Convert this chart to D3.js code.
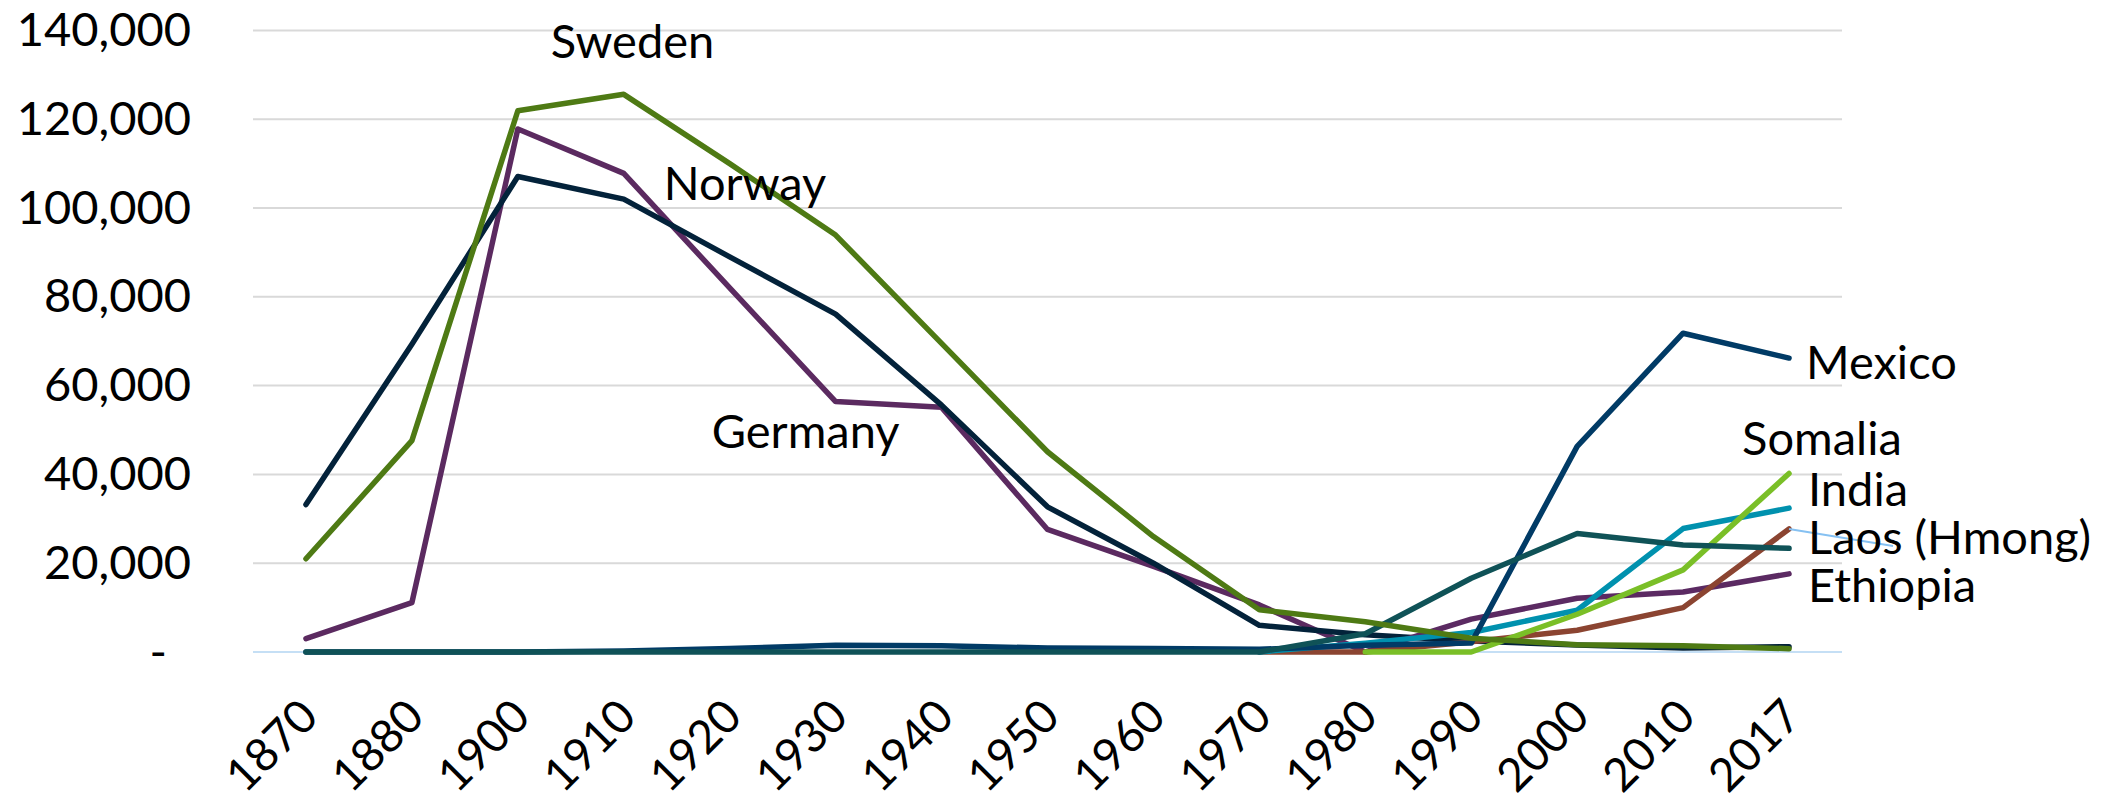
<!DOCTYPE html>
<html><head><meta charset="utf-8">
<script src="https://cdn.jsdelivr.net/npm/d3@7"></script>
<style>
html,body{margin:0;padding:0;background:#fff;}
svg{display:block;}
text{font-family: Lato, "Open Sans", sans-serif;}
</style></head><body>
<svg id="chart" width="2119" height="799"></svg>
<script>
// ---- data ----
const categories = ["1870","1880","1900","1910","1920","1930","1940","1950","1960","1970","1980","1990","2000","2010","2017"];
const yTicks = [0,20000,40000,60000,80000,100000,120000,140000];

const sweden   = [21000,47600,121900,125600,110000,93900,69500,45100,26000,9500,6800,3100,1650,1400,750];
const norway   = [33200,69300,107100,102000,89000,76100,55600,32700,20000,6000,3900,2500,1600,900,1200];
const germany  = [3000,11100,117800,107800,82000,56400,55100,27600,19300,10600,0,null,null,null,null];
const mexico   = [0,0,0,200,800,1500,1400,900,800,600,1500,2000,46300,71800,66200];
const laosHmong= [0,0,0,0,0,0,0,0,0,0,4100,16600,26700,24100,23350];
const somalia  = [null,null,null,null,null,null,null,null,null,null,0,0,8500,18500,40200];
const india    = [null,null,null,null,null,null,null,null,null,0,2000,4400,9400,27800,32400];
const brownSeries = [null,null,null,null,null,null,null,null,null,0,0,2300,4900,10000,27700];
const ethiopia = [null,null,null,null,null,null,null,null,null,null,0,7400,12100,13500,17600];

// series in drawing order (later on top)
const series = [
  {key:"Germany", values:germany},
  {key:"Norway", values:norway},
  {key:"Ethiopia", values:ethiopia},
  {key:"Brown", values:brownSeries},
  {key:"India", values:india},
  {key:"Somalia", values:somalia},
  {key:"Mexico", values:mexico},
  {key:"Laos (Hmong)", values:laosHmong},
  {key:"Sweden", values:sweden}
];
const colors = {
  "Germany":"#5b2a60","Norway":"#03223a","Ethiopia":"#5b2a62","Brown":"#8b4431",
  "India":"#0091ae","Somalia":"#7abf27","Mexico":"#013b66","Laos (Hmong)":"#0f5257","Sweden":"#4e7a14"
};

// ---- layout ----
const svg = d3.select("#chart");
const plotL = 253, plotR = 1842, plotB = 652, plotT = 30.4;
const x = d3.scalePoint().domain(categories).range([plotL, plotR]).padding(0.5);
const y = d3.scaleLinear().domain([0,140000]).range([plotB, plotT]);
const FONT = 47;

// gridlines
svg.append("g").selectAll("line").data(yTicks.filter(d=>d>0)).join("line")
  .attr("x1",plotL).attr("x2",plotR).attr("y1",d=>y(d)).attr("y2",d=>y(d))
  .attr("stroke","#d9d9d9").attr("stroke-width",2);
// zero axis line
svg.append("line").attr("x1",plotL).attr("x2",plotR).attr("y1",y(0)).attr("y2",y(0))
  .attr("stroke","#c5dff5").attr("stroke-width",2);

// y axis
const yAxis = svg.append("g").attr("transform",`translate(${plotL},0)`)
  .call(d3.axisLeft(y).tickValues(yTicks).tickSize(0).tickPadding(62)
    .tickFormat(d => d===0 ? "-" : d3.format(",")(d)));
yAxis.select(".domain").remove();
yAxis.selectAll("text").attr("font-size",FONT).attr("fill","#000").style("font-family","Lato, sans-serif")
  .attr("dx", d => d===0 ? -24 : 0);

// x axis
const xAxis = svg.append("g").attr("transform",`translate(0,${plotB})`)
  .call(d3.axisBottom(x).tickSize(0));
xAxis.select(".domain").remove();
xAxis.selectAll("text").attr("font-size",46).attr("fill","#000").style("font-family","Lato, sans-serif")
  .attr("x",0).attr("y",0).attr("dy",0).attr("text-anchor","end")
  .attr("transform","translate(14,67) rotate(-45)");

// lines
const line = d3.line()
  .defined(d => d.v !== null)
  .x(d => x(d.c)).y(d => y(d.v));
svg.append("g").selectAll("path").data(series).join("path")
  .attr("d", s => line(categories.map((c,i)=>({c, v:s.values[i]}))))
  .attr("fill","none").attr("stroke", s => colors[s.key])
  .attr("stroke-width",5.5).attr("stroke-linecap","round").attr("stroke-linejoin","round");

// leader line for Laos (Hmong) label
const last = categories[categories.length-1];
svg.append("line")
  .attr("x1", x(last)).attr("y1", y(brownSeries[brownSeries.length-1]))
  .attr("x2", x(last)+104).attr("y2", y(brownSeries[brownSeries.length-1])+17)
  .attr("stroke","#86c1f2").attr("stroke-width",2);

// series labels (anchor: category + px offset, value at baseline)
const labels = [
  {text:"Sweden", cat:"1900", dx:33, v:133800},
  {text:"Norway", cat:"1910", dx:40, v:101800},
  {text:"Germany", cat:"1920", dx:-18, v:46000},
  {text:"Mexico", cat:"2017", dx:17, v:61500},
  {text:"Somalia", cat:"2017", dx:-47, v:44400},
  {text:"India", cat:"2017", dx:19, v:32900},
  {text:"Laos (Hmong)", cat:"2017", dx:19, v:22100},
  {text:"Ethiopia", cat:"2017", dx:19, v:11300}
];
svg.append("g").selectAll("text").data(labels).join("text")
  .attr("x", d => x(d.cat)+d.dx).attr("y", d => y(d.v))
  .attr("font-size",FONT).attr("fill","#000").text(d => d.text);
</script>
</body></html>
